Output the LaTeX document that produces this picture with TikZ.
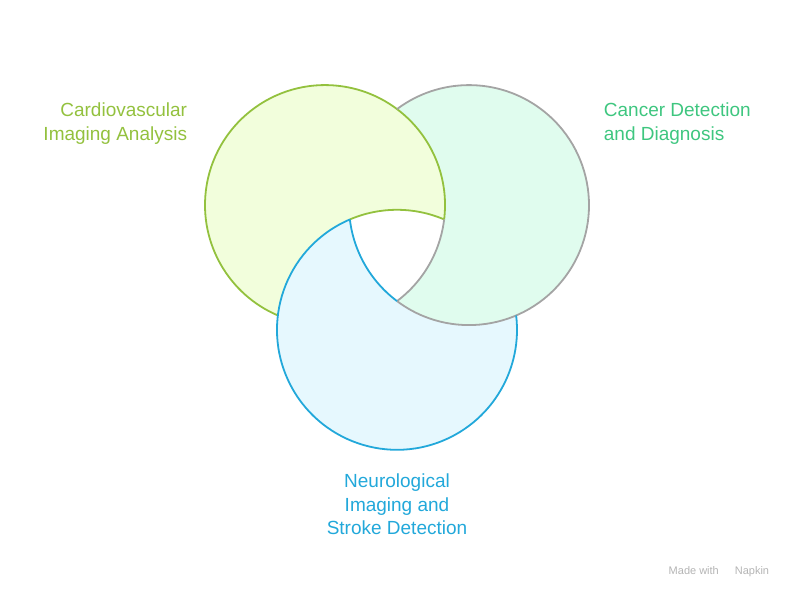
\documentclass[tikz,border=0pt]{standalone}
\usepackage{fontspec}
\setmainfont{Liberation Sans}
\definecolor{cardioline}{HTML}{93C13E}
\definecolor{cardiofill}{HTML}{F2FEDC}
\definecolor{cardiotext}{HTML}{93C13E}
\definecolor{cancerline}{HTML}{A4A4A4}
\definecolor{cancerfill}{HTML}{E0FCEE}
\definecolor{cancertext}{HTML}{3EC67F}
\definecolor{neuroline}{HTML}{22A8DA}
\definecolor{neurofill}{HTML}{E6F8FE}
\definecolor{neurotext}{HTML}{22A8DA}
\definecolor{napkingrey}{HTML}{B4B4B4}
\begin{document}
\begin{tikzpicture}[x=1pt, y=1pt, line width=1.8pt,
  labeltext/.style={font=\fontsize{19}{23.5}\selectfont, inner sep=0pt}]
\useasboundingbox (0,0) rectangle (794,599);
\coordinate (g) at (325,393.9);
\coordinate (c) at (469,393.9);
\coordinate (b) at (397,269.2);
% visible parts of the three circles
\fill[cardiofill] (g) ++(-6.87:120) arc[start angle=-6.87, end angle=246.87, radius=120]
  arc[start angle=173.13, end angle=66.87, radius=120] -- cycle;
\fill[cancerfill] (c) ++(-126.87:120) arc[start angle=-126.87, end angle=126.87, radius=120]
  arc[start angle=53.13, end angle=-53.13, radius=120] -- cycle;
\fill[neurofill] (b) ++(113.13:120) arc[start angle=113.13, end angle=366.87, radius=120]
  arc[start angle=-66.87, end angle=-173.13, radius=120] -- cycle;
% outlines
\draw[cardioline] (g) ++(-6.87:120) arc[start angle=-6.87, end angle=246.87, radius=120];
\draw[cardioline] (b) ++(66.87:120) arc[start angle=66.87, end angle=113.13, radius=120];
\draw[cancerline] (c) ++(-126.87:120) arc[start angle=-126.87, end angle=126.87, radius=120];
\draw[cancerline] (g) ++(-53.13:120) arc[start angle=-53.13, end angle=-6.87, radius=120];
\draw[neuroline] (b) ++(113.13:120) arc[start angle=113.13, end angle=366.87, radius=120];
\draw[neuroline] (c) ++(-173.13:120) arc[start angle=-173.13, end angle=-126.87, radius=120];
% labels
\node[labeltext, text=cardiotext, align=right, anchor=east] (cardio) at (188,475.4) {Cardiovascular\\Imaging Analysis};
\node[labeltext, text=cancertext, align=left, anchor=west] (cancer) at (603,475.4) {Cancer Detection\\and Diagnosis};
\node[labeltext, text=neurotext, align=center] (neuro) at (397,94.3) {Neurological\\Imaging and\\Stroke Detection};
\node[font=\fontsize{11}{13}\selectfont, text=napkingrey, anchor=east, inner sep=0pt] (napkin) at (770,27) {Made with\hspace{16pt}Napkin};
\end{tikzpicture}
\end{document}
